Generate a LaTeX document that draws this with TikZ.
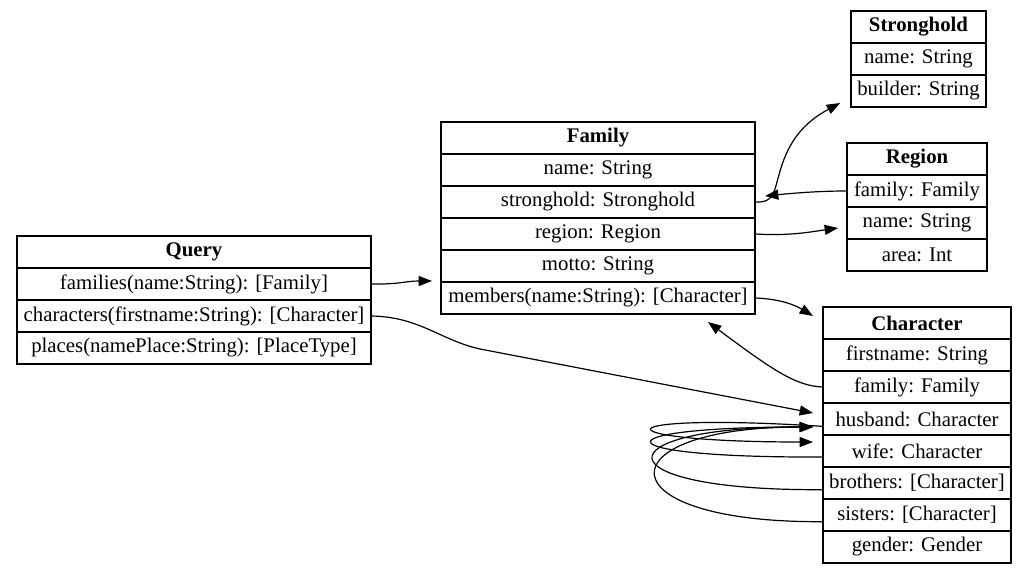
\documentclass[tikz,border=0pt]{standalone}
\usepackage{fontspec}
\setmainfont{Liberation Serif}
\usetikzlibrary{arrows.meta}
\tikzset{
	field/.style={draw, line width=0.9pt, minimum width=#1*0.75pt, minimum height=24pt, inner sep=0pt, font=\fontsize{15.6}{18}\selectfont},
	title/.style={field=#1, font=\fontsize{15.6}{18}\selectfont\bfseries},
	link/.style={-{Triangle[length=10pt,width=7.5pt]}, line width=0.9pt}
}
\begin{document}
\begin{tikzpicture}[x=0.75pt,y=-0.75pt]
	\useasboundingbox (0,0) rectangle (1027,573);
	\node[title=354] at (194,252) (query) {Query};
	\node[field=354] at (194,284) (query-families) {families(name:String): [Family]};
	\node[field=354] at (194,316) (query-characters) {characters(firstname:String): [Character]};
	\node[field=354] at (194,348) (query-places) {places(namePlace:String): [PlaceType]};
	\node[title=314] at (598,138) (family) {Family};
	\node[field=314] at (598,170) (family-name) {name: String};
	\node[field=314] at (598,202) (family-stronghold) {stronghold: Stronghold};
	\node[field=314] at (598,234) (family-region) {region: Region};
	\node[field=314] at (598,266) (family-motto) {motto: String};
	\node[field=314] at (598,298) (family-members) {members(name:String): [Character]};
	\node[title=135] at (918.5,27) (stronghold) {Stronghold};
	\node[field=135] at (918.5,59) (stronghold-name) {name: String};
	\node[field=135] at (918.5,91) (stronghold-builder) {builder: String};
	\node[title=140] at (917,159) (region) {Region};
	\node[field=140] at (917,191) (region-family) {family: Family};
	\node[field=140] at (917,223) (region-name) {name: String};
	\node[field=140] at (917,255) (region-area) {area: Int};
	\node[title=188] at (917,323) (character) {Character};
	\node[field=188] at (917,355) (character-firstname) {firstname: String};
	\node[field=188] at (917,387) (character-family) {family: Family};
	\node[field=188] at (917,419) (character-husband) {husband: Character};
	\node[field=188] at (917,451) (character-wife) {wife: Character};
	\node[field=188] at (917,483) (character-brothers) {brothers: [Character]};
	\node[field=188] at (917,515) (character-sisters) {sisters: [Character]};
	\node[field=188] at (917,547) (character-gender) {gender: Gender};
	\coordinate (family-in) at (432,281);
	\coordinate (family-back) at (765,196);
	\coordinate (family-up) at (708,322);
	\coordinate (stronghold-in) at (840,103);
	\coordinate (region-in) at (838,228);
	\coordinate (character-in) at (813,316);
	\coordinate (character-a) at (813,413);
	\coordinate (character-b) at (813,427);
	\coordinate (character-c) at (813,442);
	\draw[link] (query-families.east) .. controls (400,284.5) and (405,281) .. (family-in);
	\draw[link] (query-characters.east) .. controls (420,317) and (440,340) .. (480,349) -- (character-a);
	\draw[link] (family-stronghold.east) .. controls (775,203) and (774,190) .. (779,175) .. controls (788,140) and (805,122) .. (stronghold-in);
	\draw[link] (region-family.west) .. controls (820,191) and (795,193) .. (family-back);
	\draw[link] (family-region.east) .. controls (790,236) and (810,232) .. (region-in);
	\draw[link] (family-members.east) .. controls (780,299) and (795,305) .. (character-in);
	\draw[link] (character-family.west) .. controls (795,386) and (770,368) .. (family-up);
	\draw[link] ([yshift=-5.5pt]character-husband.west) .. controls (597,412) and (597,442) .. (character-c);
	\draw[link] ([yshift=-4.5pt]character-wife.west) .. controls (597,458) and (597,427) .. (character-b);
	\draw[link] ([yshift=-5pt]character-brothers.west) .. controls (599,491) and (599,427) .. (character-b);
	\draw[link] ([yshift=-5pt]character-sisters.west) .. controls (602,523) and (602,427) .. (character-b);
\end{tikzpicture}
\end{document}
